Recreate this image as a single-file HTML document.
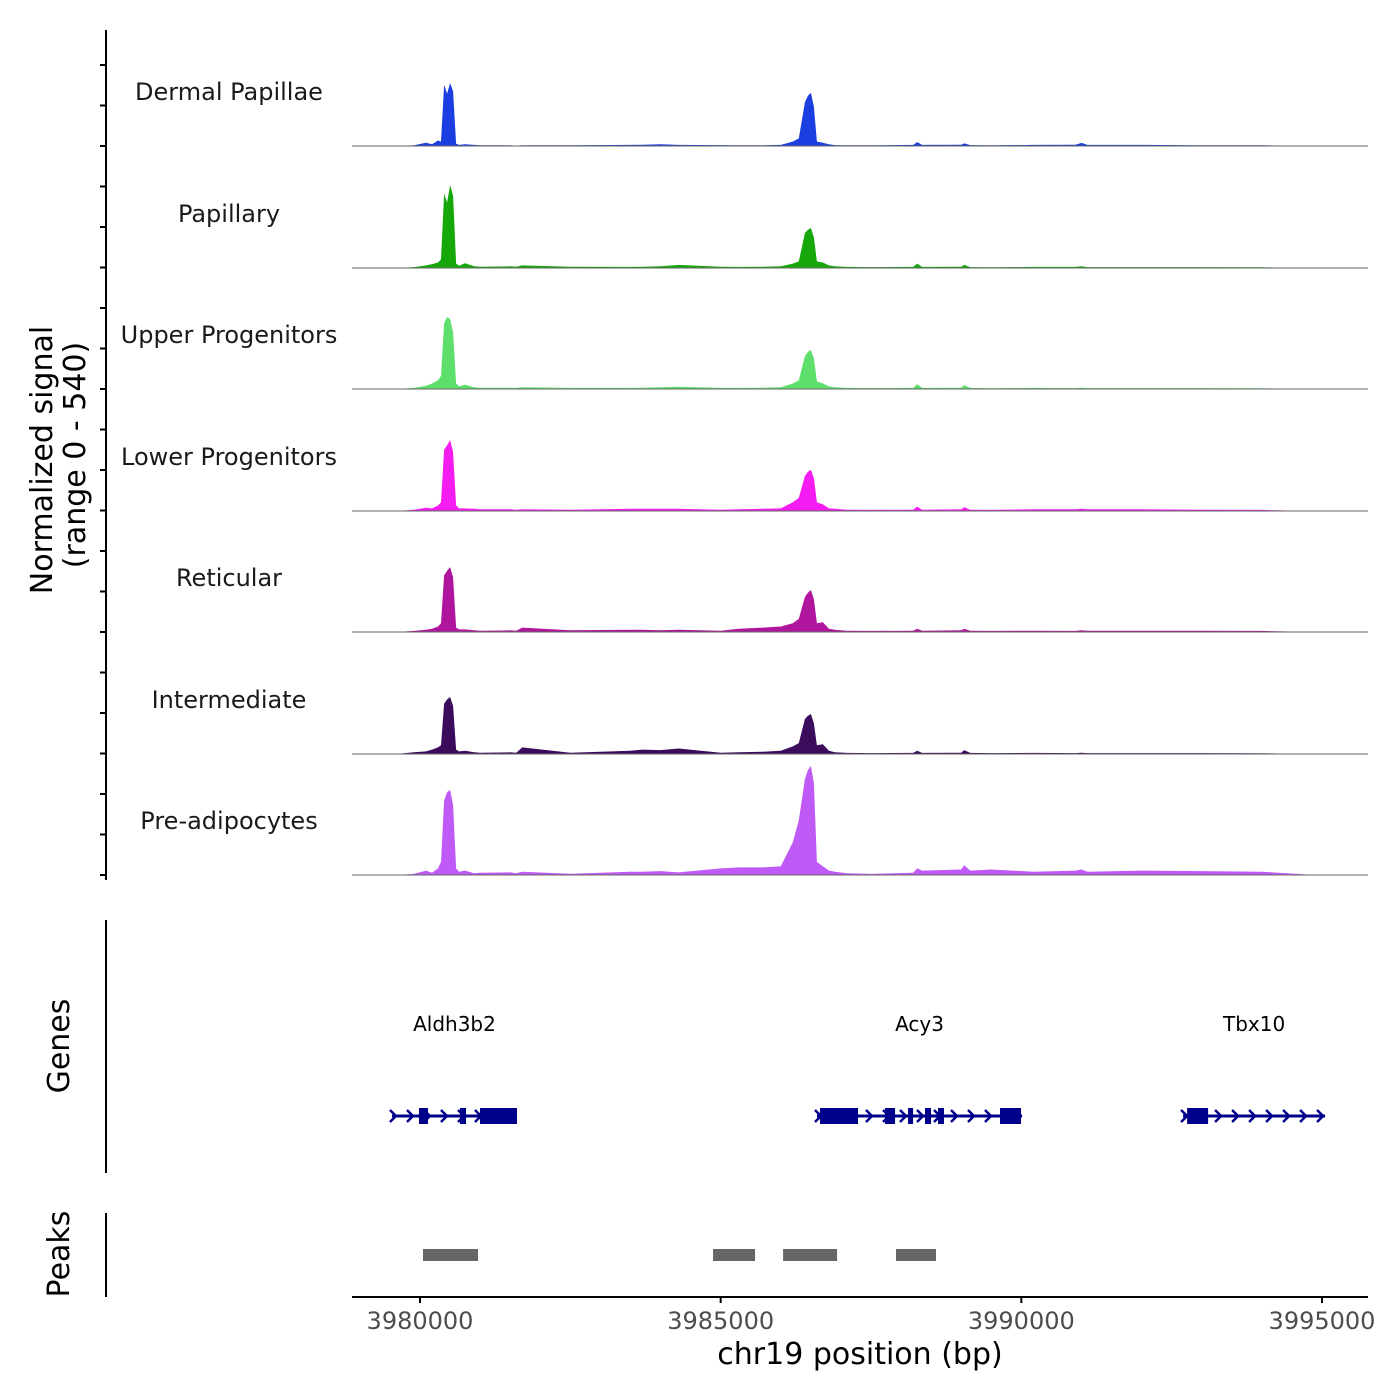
<!DOCTYPE html>
<html><head><meta charset="utf-8"><style>
body{margin:0;background:#fff;}
svg{display:block;font-family:"DejaVu Sans","Liberation Sans",sans-serif;}
</style></head><body>
<svg id="chart" width="1400" height="1400" viewBox="0 0 1400 1400">
<g id="tracks"></g>
<g id="genes"></g>
<g id="peaks"></g>
<g id="axes"></g>
</svg>
<script>
const trackNames=["Dermal Papillae","Papillary","Upper Progenitors","Lower Progenitors","Reticular","Intermediate","Pre-adipocytes"];
const trackColors=["#1a3ee0","#16a80a","#5ede6a","#f41cf0","#b0159e","#3b0b5c","#c05af7"];
const positions=[3979600,3979900,3980100,3980200,3980300,3980350,3980400,3980450,3980500,3980550,3980600,3980650,3980750,3980900,3981000,3981500,3981600,3981700,3982500,3983500,3983700,3984000,3984300,3985000,3985300,3985700,3986000,3986200,3986300,3986400,3986450,3986500,3986550,3986600,3986700,3986800,3986900,3987100,3987500,3988200,3988270,3988350,3989000,3989050,3989150,3989500,3990200,3990900,3991000,3991100,3992000,3993000,3994000,3994900];
const valsDP=[0,3,15,8,25,20,280,240,288,250,10,5,8,5,3,3,2,3,3,5,6,8,5,4,3,3,5,20,35,200,230,243,180,20,15,8,4,3,3,5,18,5,6,12,4,3,5,6,14,5,5,3,3,0];
const valsPap=[0,4,12,18,25,40,340,300,380,330,20,10,22,8,6,8,6,12,6,5,6,8,14,6,5,6,8,20,30,160,175,183,140,30,25,12,8,5,4,5,20,5,6,15,4,3,5,5,8,4,4,4,3,0];
const valsUP=[0,5,15,25,40,60,300,330,320,260,25,12,20,8,6,6,5,8,5,5,6,8,10,5,5,6,8,25,40,150,170,178,140,35,25,12,8,5,4,5,22,5,6,18,5,3,5,4,6,4,4,4,3,0];
const valsLP=[0,6,15,12,25,40,280,300,325,270,25,12,12,10,8,8,6,8,6,10,10,10,10,6,8,10,12,40,60,160,180,188,150,40,30,12,10,6,5,6,20,6,8,18,6,5,8,8,10,8,8,6,5,0];
const valsRet=[0,5,10,15,25,40,260,280,297,250,20,12,12,8,6,8,6,20,8,10,10,8,10,6,15,20,25,40,60,160,180,192,150,40,45,15,10,6,5,6,15,6,8,15,6,5,6,5,8,6,6,6,5,0];
const valsInt=[0,8,12,20,30,40,230,250,261,220,20,12,15,8,6,8,6,30,6,15,20,18,25,6,8,10,15,35,50,160,175,183,140,40,45,15,8,5,4,5,15,5,6,18,5,4,5,4,6,4,4,4,3,0];
const valsPre=[0,5,20,10,30,60,340,380,389,320,30,15,20,8,10,12,8,15,6,15,15,18,12,30,35,35,40,150,250,440,480,499,420,60,40,20,15,8,5,10,30,20,25,45,20,25,15,20,25,15,20,18,15,0];
const trackValues=[valsDP,valsPap,valsUP,valsLP,valsRet,valsInt,valsPre];
const xTicks=[3980000,3985000,3990000,3995000];
const xTickLabels=["3980000","3985000","3990000","3995000"];
const geneNames=["Aldh3b2","Acy3","Tbx10"];
const geneStarts=[3979534,3986602,3992690];
const geneEnds=[3981613,3990012,3995052];
const geneExons=[[[3979983,3980133],[3980665,3980765],[3980998,3981613]],
 [[3986652,3987284],[3987733,3987900],[3988116,3988199],[3988398,3988498],[3988615,3988714],[3989645,3989995]],
 [[3992757,3993106]]];
const peakStarts=[3980050,3984873,3986038,3987916];
const peakEnds=[3980965,3985572,3986936,3988581];
const yMax=540;

const NS="http://www.w3.org/2000/svg";
function xs(bp){return 420+(bp-3980000)*(1322-420)/15000;}
function ys(v,base){return base-v/yMax*118;}
function mk(tag,attrs,parent){const e=document.createElementNS(NS,tag);for(const k in attrs)e.setAttribute(k,attrs[k]);parent.appendChild(e);return e;}
const tracks=document.getElementById('tracks'),axes=document.getElementById('axes');
const baselines=[146,268,389,511,632,754,875];
trackValues.forEach((vals,i)=>{
  const b=baselines[i];
  let d="M"+xs(positions[0])+","+b;
  vals.forEach((v,j)=>{d+=" L"+xs(positions[j]).toFixed(1)+","+ys(v,b).toFixed(1);});
  d+=" L"+xs(positions[positions.length-1])+","+b+" Z";
  const p=mk('path',{d:d,fill:trackColors[i]},tracks);
  
  
  const l=mk('line',{x1:352,x2:1368,y1:b,y2:b,stroke:"#666","stroke-width":1},tracks);
  
  
  const t=mk('text',{x:229,y:b-46,"text-anchor":"middle","font-size":24,fill:"#1a1a1a"},tracks);
  t.textContent=trackNames[i];
  
  
});
let e=mk('line',{x1:106,x2:106,y1:30,y2:880,stroke:"#000","stroke-width":2},axes);


for(let y=875;y>=60;y-=121.5/3){
  const tk=mk('line',{x1:100,x2:106,y1:y,y2:y,stroke:"#000","stroke-width":2},axes);
  
  
}
e=mk('text',{transform:"translate(52,460) rotate(-90)","text-anchor":"middle","font-size":30,fill:"#000"},axes);
e.textContent="Normalized signal";


e=mk('text',{transform:"translate(85,455) rotate(-90)","text-anchor":"middle","font-size":30,fill:"#000"},axes);
e.textContent="(range 0 - 540)";


const genes=document.getElementById('genes');
e=mk('line',{x1:106,x2:106,y1:920,y2:1173,stroke:"#000","stroke-width":2},genes);


e=mk('text',{transform:"translate(69,1046) rotate(-90)","text-anchor":"middle","font-size":30,fill:"#000"},genes);
e.textContent="Genes";


const gy=1116,gc="#00008b";
geneNames.forEach((n,i)=>{
  const x1=xs(geneStarts[i]),x2=xs(geneEnds[i]);
  const ln=mk('line',{x1:x1,x2:x2,y1:gy,y2:gy,stroke:gc,"stroke-width":3},genes);
  
  
  for(let x=x1+2;x<=x2;x+=17){
    const ch=mk('path',{d:`M${x-4},${gy-6} L${x+2},${gy} L${x-4},${gy+6}`,fill:"none",stroke:gc,"stroke-width":2.5},genes);
    
    
  }
  geneExons[i].forEach(ex=>{
    const r=mk('rect',{x:xs(ex[0]),y:gy-8,width:xs(ex[1])-xs(ex[0]),height:16,fill:gc},genes);
    
    
  });
  const t=mk('text',{x:(x1+x2)/2,y:1031,"text-anchor":"middle","font-size":20,fill:"#000"},genes);
  t.textContent=n;
  
  
});
const peaks=document.getElementById('peaks');
e=mk('line',{x1:106,x2:106,y1:1213,y2:1297,stroke:"#000","stroke-width":2},peaks);


e=mk('text',{transform:"translate(69,1254) rotate(-90)","text-anchor":"middle","font-size":30,fill:"#000"},peaks);
e.textContent="Peaks";


peakStarts.forEach((s,i)=>{
  const r=mk('rect',{x:xs(s),y:1249,width:xs(peakEnds[i])-xs(s),height:12,fill:"#666"},peaks);
  
  
});
e=mk('line',{x1:352,x2:1368,y1:1297,y2:1297,stroke:"#000","stroke-width":2},axes);


xTicks.forEach((t,i)=>{
  const tk=mk('line',{x1:xs(t),x2:xs(t),y1:1297,y2:1303,stroke:"#000","stroke-width":2},axes);
  
  
  const lb=mk('text',{x:xs(t),y:1329,"text-anchor":"middle","font-size":24,fill:"#4d4d4d"},axes);
  lb.textContent=xTickLabels[i];
  
  
});
e=mk('text',{x:860,y:1364,"text-anchor":"middle","font-size":30,fill:"#000"},axes);
e.textContent="chr19 position (bp)";


</script>
</body></html>
